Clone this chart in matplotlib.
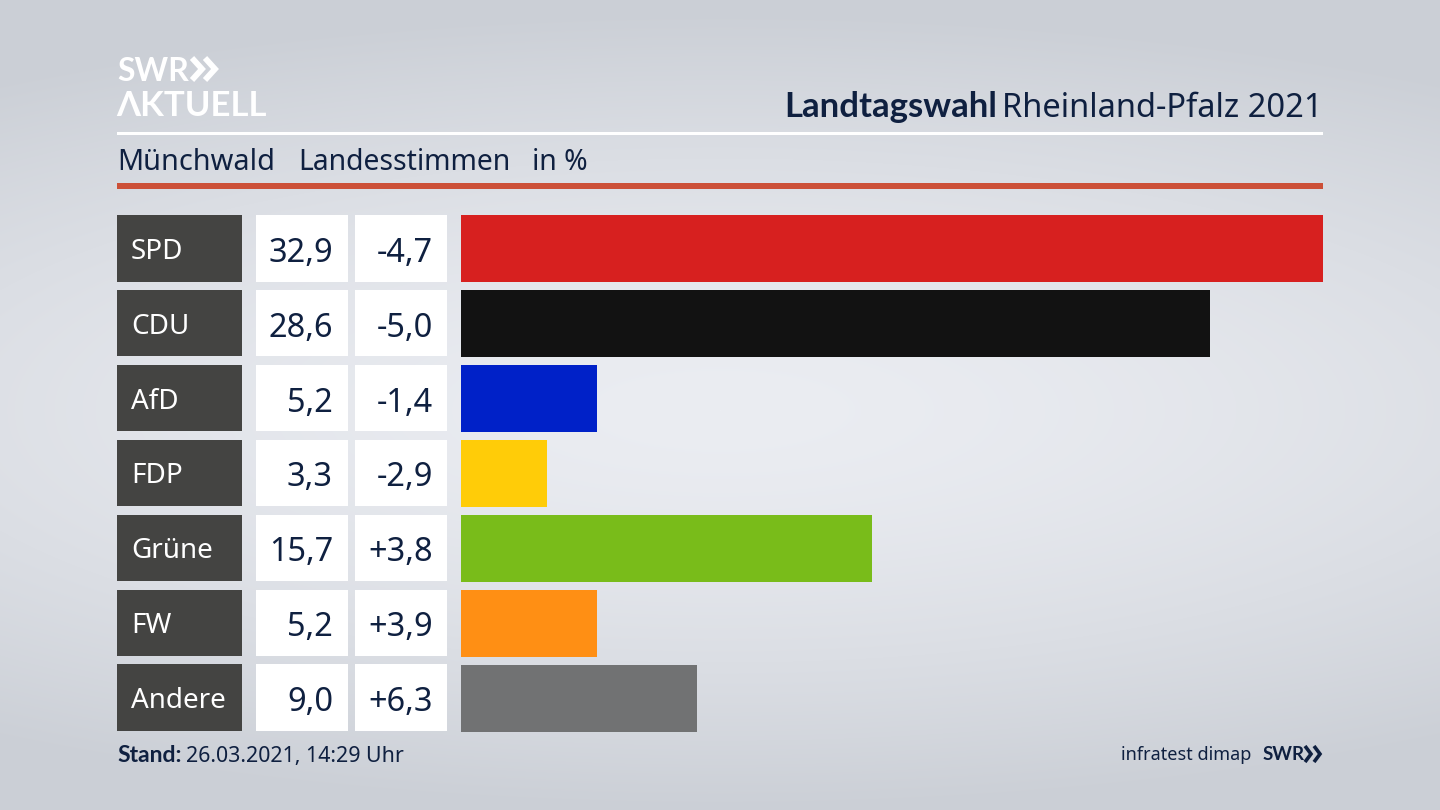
import numpy as np
from matplotlib import pyplot as plt
from matplotlib.patches import Rectangle

parties = ["SPD", "CDU", "AfD", "FDP", "Grüne", "FW", "Andere"]
values = [32.9, 28.6, 5.2, 3.3, 15.7, 5.2, 9.0]
changes = ["-4,7", "-5,0", "-1,4", "-2,9", "+3,8", "+3,9", "+6,3"]
colors = ["#d7201f", "#121212", "#0021c8", "#ffcc08", "#79bc1a", "#ff8f14", "#717273"]

NAVY = "#0f2040"
ROW_TOP = 215
ROW_STEP = 74.9
ROW_H = 66.5

plt.rcParams["font.family"] = ["Noto Sans", "DejaVu Sans"]
fig = plt.figure(figsize=(14.4, 8.1), dpi=100)

# whole figure in pixel coords, y going down
bg = fig.add_axes([0, 0, 1, 1])
bg.set_xlim(0, 1440)
bg.set_ylim(810, 0)
bg.axis("off")

# soft light band through the middle
yy, xx = np.mgrid[0:810, 0:1440]
r = np.sqrt(((xx - 720) / 1300) ** 2 + ((yy - 410) / 400) ** 2)
shade = np.clip(r, 0, 1) ** 1.5
light = np.array([235, 237, 242]) / 255
dark = np.array([203, 207, 214]) / 255
img = light + (dark - light) * shade[..., None]
bg.imshow(img, extent=[0, 1440, 810, 0], aspect="auto", zorder=0)

# logo
bg.text(117, 81, "SWR", color="white", fontsize=23, fontweight="bold", family="Lato", va="baseline")
for x0 in (192, 205):
    bg.plot([x0, x0 + 10, x0], [58, 69, 80], color="white", lw=4.2, solid_joinstyle="miter", solid_capstyle="butt")
bg.text(116, 116, "ΛKTUELL", color="white", fontsize=25, fontweight="bold", family=["Lato", "DejaVu Sans"], va="baseline")

# header
bg.text(1323, 117, "Rheinland-Pfalz 2021", color=NAVY, fontsize=23.5, ha="right", va="baseline")
bg.text(997, 117, "Landtagswahl", color=NAVY, fontsize=25, fontweight="bold", family="Lato", ha="right", va="baseline")
bg.add_patch(Rectangle((117, 132), 1206, 3, color="white", lw=0))

bg.text(117, 170, "Münchwald", color=NAVY, fontsize=20.8, va="baseline")
bg.text(298, 170, "Landesstimmen", color=NAVY, fontsize=20.4, va="baseline")
bg.text(532, 170, "in %", color=NAVY, fontsize=20.4, va="baseline")
bg.add_patch(Rectangle((117, 183), 1206, 6, color="#cc5038", lw=0))

# table cells left of the bars
for i, (party, val, chg) in enumerate(zip(parties, values, changes)):
    top = ROW_TOP + i * ROW_STEP
    mid = top + ROW_H / 2
    bg.add_patch(Rectangle((117, top), 124.5, ROW_H, color="#444442", lw=0))
    bg.add_patch(Rectangle((256, top), 92, ROW_H, color="white", lw=0))
    bg.add_patch(Rectangle((355, top), 92, ROW_H, color="white", lw=0))
    bg.text(131, mid, party, color="white", fontsize=20, va="center_baseline")
    bg.text(333, mid + 1, f"{val:.1f}".replace(".", ","), color=NAVY, fontsize=23.4, ha="right", va="center_baseline")
    bg.text(433, mid + 1, chg, color=NAVY, fontsize=23.4, ha="right", va="center_baseline")

# bars, scaled so the biggest one fills the width
ax = fig.add_axes([461 / 1440, 1 - 731.5 / 810, 862 / 1440, 516.5 / 810])
ax.barh(range(len(values)), values, height=ROW_H / ROW_STEP, color=colors)
ax.set_xlim(0, max(values))
ax.set_ylim(6 + ROW_H / ROW_STEP / 2, -ROW_H / ROW_STEP / 2)
ax.axis("off")

# footer
bg.text(117, 762, "Stand:", color=NAVY, fontsize=16.5, fontweight="bold", family="Lato", va="baseline")
bg.text(186, 762, "26.03.2021, 14:29 Uhr", color=NAVY, fontsize=15.4, va="baseline")
bg.text(1251, 760, "infratest dimap", color=NAVY, fontsize=13, ha="right", va="baseline")
bg.text(1263, 760, "SWR", color=NAVY, fontsize=13.5, fontweight="bold", va="baseline", family="Lato")
for x0 in (1305, 1314):
    bg.plot([x0, x0 + 6, x0], [746, 754, 762], color=NAVY, lw=2.6, solid_joinstyle="miter", solid_capstyle="butt")

fig.savefig("out.png", dpi=100)
